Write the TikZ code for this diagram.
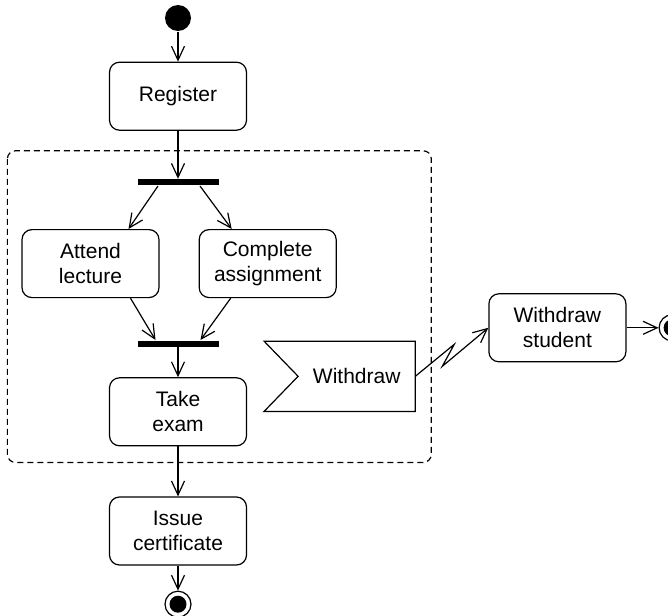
\documentclass[tikz,border=0pt]{standalone}
\usepackage{fontspec}
\setmainfont{Liberation Sans}
\usetikzlibrary{arrows.meta, positioning, calc}

\begin{document}
\begin{tikzpicture}[
    font=\fontsize{21}{25}\selectfont,
    line width=1.2pt,
    action/.style={draw, rectangle, rounded corners=10pt, minimum width=137pt, minimum height=68pt, align=center, inner sep=0pt},
    bar/.style={fill=black, rectangle, minimum width=81pt, minimum height=6pt, inner sep=0pt},
    startnode/.style={circle, fill=black, minimum size=26pt, inner sep=0pt},
    endnode/.style={circle, draw, minimum size=26pt, inner sep=0pt, path picture={\fill (path picture bounding box.center) circle (8.5pt);}},
    event/.style={rectangle, minimum width=116pt, minimum height=69pt, inner sep=0pt},
    arrow/.style={-{Straight Barb[length=14pt, width=13pt]}},
    interrupt/.style={dash pattern=on 6pt off 4pt, rounded corners=8pt}
]
    % Nodes
    \node[startnode] (init) {};
    \useasboundingbox ([shift={(-178pt,18pt)}]init.center) rectangle ++(668pt,-615pt);
    \node[action] (register) [below=30pt of init] {Register};
    \node[bar] (fork) [below=48pt of register] {};
    \node[action] (attend) [below=43pt of fork, xshift=-87.5pt] {Attend\\lecture};
    \node[action] (complete) [right=39pt of attend] {Complete\\assignment};
    \node[bar] (join) [below=154pt of fork] {};
    \node[action] (take) [below=30pt of join] {Take\\exam};
    \node[action] (issue) [below=50pt of take] {Issue\\certificate};
    \node[endnode] (final) [below=25pt of issue] {};
    \node[event] (withdraw) [right=51pt of take, yshift=35.5pt] {Withdraw};
    \node[action] (wstudent) [right=73pt of withdraw, yshift=48.5pt] {Withdraw\\student};
    \node[endnode] (final2) [right=32pt of wstudent] {};

    % Accept event flag
    \draw (withdraw.north east) -- (withdraw.south east) -- ([xshift=-34pt]withdraw.south west) -- (withdraw.west) -- ([xshift=-34pt]withdraw.north west) -- cycle;

    % Interruptible region
    \draw[interrupt] ($(attend.west |- fork.north)+(-14pt,28pt)$) rectangle ($(withdraw.east |- take.south)+(16pt,-16pt)$);

    % Connections
    \draw[arrow] (init) -- (register);
    \draw[arrow] (register) -- (fork);
    \draw[arrow] ([xshift=-20pt]fork.south) -- ([xshift=38pt]attend.north);
    \draw[arrow] ([xshift=22pt]fork.south) -- ([xshift=-36pt]complete.north);
    \draw[arrow] ([xshift=40pt]attend.south) -- ([xshift=-22.5pt]join.north);
    \draw[arrow] ([xshift=-37pt]complete.south) -- ([xshift=22.5pt]join.north);
    \draw[arrow] (join) -- (take);
    \draw[arrow] (take) -- (issue);
    \draw[arrow] (issue) -- (final);
    \draw[arrow] (withdraw.east) -- ++(39pt,32pt) -- ++(-12pt,-22pt) -- (wstudent.west);
    \draw[arrow] (wstudent) -- (final2);
\end{tikzpicture}
\end{document}
